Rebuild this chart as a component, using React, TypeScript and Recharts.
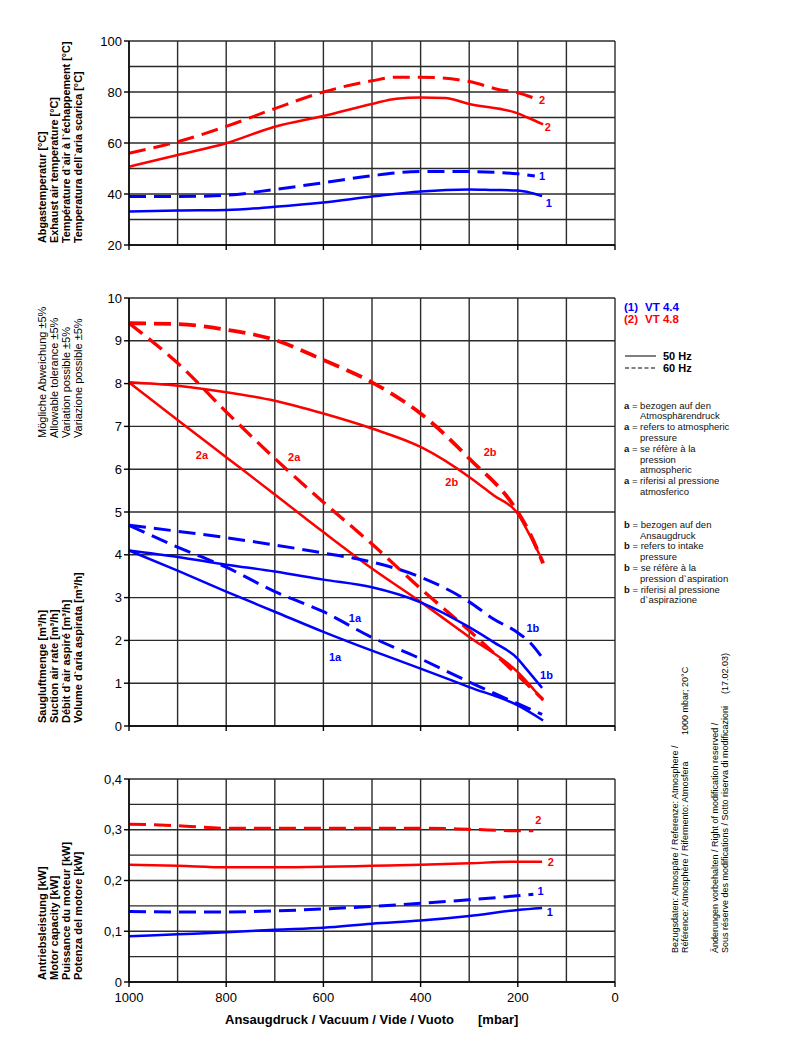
import React from 'react';
import { LineChart, Line, XAxis, YAxis, CartesianGrid, ReferenceDot } from 'recharts';

const RED = '#ff0000';
const BLUE = '#0000ff';
const GRID = '#2b2b2b';
const FONT = '"Liberation Sans", Arial, Helvetica, sans-serif';

// x axis: vacuum [mbar], drawn reversed (1000 left, 0 right)
const X_TICKS = [1000, 800, 600, 400, 200, 0];
const X_GRID = [1000, 900, 800, 700, 600, 500, 400, 300, 200, 100, 0];

// exhaust air temperature [°C]
const T_TICKS = [20, 40, 60, 80, 100];
const T_GRID = [20, 30, 40, 50, 60, 70, 80, 90, 100];
const T2_60_P = [1000, 900, 800, 700, 600, 500, 450, 400, 300, 240, 200, 165];
const T2_60_V = [56, 60.5, 66.5, 73.5, 80, 84.4, 85.8, 85.8, 84.1, 81, 79.7, 77.5];
const T2_50_P = [1000, 900, 800, 700, 600, 500, 450, 400, 350, 300, 200, 180, 148];
const T2_50_V = [50.7, 55.3, 59.9, 66.4, 70.6, 75.3, 77.4, 77.8, 77.6, 75.3, 71.6, 70, 67.3];
const T1_60_P = [1000, 900, 800, 700, 600, 500, 400, 300, 200, 165];
const T1_60_V = [39, 39, 39.5, 41.8, 44.4, 47.2, 48.8, 48.8, 47.9, 47.1];
const T1_50_P = [1000, 900, 800, 700, 600, 500, 400, 300, 250, 200, 180, 150];
const T1_50_V = [33.1, 33.5, 33.7, 35, 36.7, 39, 41, 41.8, 41.6, 41.4, 40.8, 39.2];

// suction air rate [m³/h]
const F_TICKS = [0, 1, 2, 3, 4, 5, 6, 7, 8, 9, 10];
const F2B_60_P = [1000, 900, 800, 700, 600, 500, 400, 300, 200, 175, 148];
const F2B_60_V = [9.41, 9.39, 9.26, 9.02, 8.55, 8.03, 7.3, 6.25, 5.0, 4.5, 3.8];
const F2B_50_P = [1000, 900, 800, 700, 600, 500, 400, 300, 250, 200, 175, 148];
const F2B_50_V = [8.03, 7.95, 7.8, 7.6, 7.3, 6.95, 6.52, 5.82, 5.39, 4.96, 4.45, 3.83];
const F2A_60_P = [1000, 900, 800, 700, 600, 500, 400, 300, 200, 148];
const F2A_60_V = [9.41, 8.48, 7.34, 6.25, 5.23, 4.25, 3.21, 2.23, 1.18, 0.62];
const F2A_50_P = [1000, 900, 800, 700, 600, 500, 400, 300, 200, 148];
const F2A_50_V = [8.03, 7.15, 6.28, 5.41, 4.53, 3.68, 2.9, 2.08, 1.26, 0.6];
const F1B_60_P = [1000, 900, 800, 700, 600, 500, 400, 300, 250, 200, 175, 148];
const F1B_60_V = [4.69, 4.55, 4.4, 4.23, 4.04, 3.83, 3.48, 2.9, 2.5, 2.18, 1.95, 1.57];
const F1B_50_P = [1000, 900, 800, 700, 600, 500, 400, 300, 250, 200, 183, 150];
const F1B_50_V = [4.1, 3.95, 3.77, 3.61, 3.42, 3.24, 2.89, 2.31, 1.96, 1.57, 1.34, 0.89];
const F1A_60_P = [1000, 900, 800, 700, 600, 500, 400, 300, 200, 150];
const F1A_60_V = [4.69, 4.18, 3.71, 3.14, 2.67, 2.07, 1.57, 1.03, 0.52, 0.27];
const F1A_50_P = [1000, 900, 800, 700, 600, 500, 400, 300, 200, 148];
const F1A_50_V = [4.1, 3.63, 3.14, 2.67, 2.2, 1.76, 1.34, 0.91, 0.48, 0.13];

// motor capacity [kW]
const W_TICKS = [0, 0.1, 0.2, 0.3, 0.4];
const W_GRID = [0, 0.05, 0.1, 0.15, 0.2, 0.25, 0.3, 0.35, 0.4];
const W2_60_P = [1000, 900, 800, 700, 600, 500, 400, 300, 200, 168];
const W2_60_V = [0.311, 0.308, 0.303, 0.303, 0.303, 0.303, 0.303, 0.301, 0.298, 0.298];
const W2_50_P = [1000, 900, 800, 700, 600, 500, 400, 300, 200, 150];
const W2_50_V = [0.231, 0.229, 0.226, 0.226, 0.227, 0.229, 0.231, 0.234, 0.237, 0.237];
const W1_60_P = [1000, 900, 800, 700, 600, 500, 400, 300, 200, 168];
const W1_60_V = [0.139, 0.138, 0.138, 0.14, 0.144, 0.149, 0.155, 0.162, 0.17, 0.173];
const W1_50_P = [1000, 900, 800, 700, 600, 500, 400, 300, 200, 150];
const W1_50_V = [0.09, 0.094, 0.098, 0.103, 0.107, 0.115, 0.121, 0.13, 0.142, 0.146];

type Pt = { p: number; v: number };
type Series = { name: string; data: Pt[]; color: string; dashed: boolean; width?: number };
type CurveLabel = { text: string; p: number; v: number; color: string };

const pts = (p: number[], v: number[]): Pt[] => p.map((x, i) => ({ p: x, v: v[i] }));

const TEMP_SERIES: Series[] = [
  { name: '2-60', data: pts(T2_60_P, T2_60_V), color: RED, dashed: true },
  { name: '2-50', data: pts(T2_50_P, T2_50_V), color: RED, dashed: false },
  { name: '1-60', data: pts(T1_60_P, T1_60_V), color: BLUE, dashed: true },
  { name: '1-50', data: pts(T1_50_P, T1_50_V), color: BLUE, dashed: false },
];
const TEMP_LABELS: CurveLabel[] = [
  { text: '2', p: 150, v: 76.9, color: RED },
  { text: '2', p: 138, v: 66.3, color: RED },
  { text: '1', p: 150, v: 47, color: BLUE },
  { text: '1', p: 136, v: 36.5, color: BLUE },
];

const FLOW_SERIES: Series[] = [
  { name: '2b-60', data: pts(F2B_60_P, F2B_60_V), color: RED, dashed: true, width: 3.8 },
  { name: '2b-50', data: pts(F2B_50_P, F2B_50_V), color: RED, dashed: false },
  { name: '2a-60', data: pts(F2A_60_P, F2A_60_V), color: RED, dashed: true, width: 3.3 },
  { name: '2a-50', data: pts(F2A_50_P, F2A_50_V), color: RED, dashed: false },
  { name: '1b-60', data: pts(F1B_60_P, F1B_60_V), color: BLUE, dashed: true },
  { name: '1b-50', data: pts(F1B_50_P, F1B_50_V), color: BLUE, dashed: false },
  { name: '1a-60', data: pts(F1A_60_P, F1A_60_V), color: BLUE, dashed: true },
  { name: '1a-50', data: pts(F1A_50_P, F1A_50_V), color: BLUE, dashed: false },
];
const FLOW_LABELS: CurveLabel[] = [
  { text: '2a', p: 850, v: 6.33, color: RED },
  { text: '2a', p: 660, v: 6.28, color: RED },
  { text: '2b', p: 257, v: 6.4, color: RED },
  { text: '2b', p: 336, v: 5.7, color: RED },
  { text: '1a', p: 535, v: 2.52, color: BLUE },
  { text: '1a', p: 576, v: 1.6, color: BLUE },
  { text: '1b', p: 169, v: 2.28, color: BLUE },
  { text: '1b', p: 141, v: 1.19, color: BLUE },
];

const POWER_SERIES: Series[] = [
  { name: '2-60', data: pts(W2_60_P, W2_60_V), color: RED, dashed: true },
  { name: '2-50', data: pts(W2_50_P, W2_50_V), color: RED, dashed: false },
  { name: '1-60', data: pts(W1_60_P, W1_60_V), color: BLUE, dashed: true },
  { name: '1-50', data: pts(W1_50_P, W1_50_V), color: BLUE, dashed: false },
];
const POWER_LABELS: CurveLabel[] = [
  { text: '2', p: 158, v: 0.319, color: RED },
  { text: '2', p: 132, v: 0.236, color: RED },
  { text: '1', p: 153, v: 0.179, color: BLUE },
  { text: '1', p: 134, v: 0.137, color: BLUE },
];

const tickStyle = { fill: '#000', fontSize: 13, fontFamily: FONT };

interface PanelProps {
  top: number;
  height: number;
  margin: { top: number; right: number; bottom: number; left: number };
  yDomain: [number, number];
  yTicks: number[];
  yGrid: number[];
  series: Series[];
  labels: CurveLabel[];
  xAxisHeight: number;
  showXLabels: boolean;
  yFormat?: (v: number) => string;
}

const Panel: React.FC<PanelProps> = ({
  top, height, margin, yDomain, yTicks, yGrid, series, labels, xAxisHeight, showXLabels, yFormat,
}) => (
  <div style={{ position: 'absolute', left: 0, top }}>
    <LineChart width={800} height={height} margin={margin}>
      <CartesianGrid
        stroke={GRID}
        strokeWidth={1.4}
        horizontalValues={yGrid}
        verticalValues={X_GRID}
      />
      <XAxis
        dataKey="p"
        type="number"
        domain={[0, 1000]}
        reversed
        ticks={X_TICKS}
        allowDuplicatedCategory={false}
        height={xAxisHeight}
        tickSize={5}
        tickMargin={6}
        stroke="#000"
        strokeWidth={1.4}
        tick={tickStyle}
        tickFormatter={(v: number) => (showXLabels ? String(v) : '')}
      />
      <YAxis
        type="number"
        domain={yDomain}
        ticks={yTicks}
        width={40}
        tickSize={5}
        stroke="#000"
        strokeWidth={1.4}
        tick={tickStyle}
        tickFormatter={yFormat}
        allowDataOverflow
      />
      {series.map((s) => (
        <Line
          key={s.name}
          data={s.data}
          dataKey="v"
          type="monotone"
          stroke={s.color}
          strokeWidth={s.width ?? (s.dashed ? 3 : 2.5)}
          strokeDasharray={s.dashed ? '17 8' : undefined}
          dot={false}
          activeDot={false}
          isAnimationActive={false}
        />
      ))}
      {labels.map((l, i) => (
        <ReferenceDot
          key={`lbl-${i}`}
          x={l.p}
          y={l.v}
          r={0}
          fill="none"
          stroke="none"
          label={{
            value: l.text,
            position: 'center',
            fill: l.color,
            fontSize: 11,
            fontWeight: 'bold',
            fontFamily: FONT,
          }}
        />
      ))}
    </LineChart>
  </div>
);

const vText = (x: number, y: number, text: string, bold: boolean, size = 11, key?: string) => (
  <text
    key={key}
    x={x}
    y={y}
    transform={`rotate(-90, ${x}, ${y})`}
    fontSize={size}
    fontWeight={bold ? 'bold' : 'normal'}
    fontFamily={FONT}
    fill="#000"
  >
    {text}
  </text>
);

const TEMP_TITLE = [
  'Abgastemperatur [°C]',
  'Exhaust air temperature [°C]',
  'Température d`air à l`échappement [°C]',
  'Temperatura dell`aria scarica [°C]',
];
const TOL_TITLE = [
  'Mögliche Abweichung ±5%',
  'Allowable tolerance ±5%',
  'Variation possible ±5%',
  'Variazione possible ±5%',
];
const FLOW_TITLE = [
  'Saugluftmenge [m³/h]',
  'Suction air rate [m³/h]',
  'Débit d`air aspiré [m³/h]',
  'Volume d`aria aspirata [m³/h]',
];
const POWER_TITLE = [
  'Antriebsleistung [kW]',
  'Motor capacity [kW]',
  'Puissance du moteur [kW]',
  'Potenza del motore [kW]',
];
const NOTE_A: [string, string][] = [
  ['a', ' = bezogen auf den'],
  ['', 'Atmosphärendruck'],
  ['a', ' = refers to atmospheric'],
  ['', 'pressure'],
  ['a', ' = se réfère à la'],
  ['', 'pression'],
  ['', 'atmospheric'],
  ['a', ' = riferisi al pressione'],
  ['', 'atmosferico'],
];
const NOTE_B: [string, string][] = [
  ['b', ' = bezogen auf den'],
  ['', 'Ansaugdruck'],
  ['b', ' = refers to intake'],
  ['', 'pressure'],
  ['b', ' = se réfère à la'],
  ['', 'pression d`aspiration'],
  ['b', ' = riferisi al pressione'],
  ['', 'd`aspirazione'],
];

const noteBlock = (lines: [string, string][], y0: number, keyBase: string) =>
  lines.map(([k, t], i) => (
    <text
      key={`${keyBase}-${i}`}
      x={k ? 624 : 640}
      y={y0 + i * 10.8}
      fontSize={9.5}
      fontFamily={FONT}
      fill="#111"
    >
      {k && <tspan fontWeight="bold">{k}</tspan>}
      {t}
    </text>
  ));

const Overlay: React.FC = () => (
  <svg
    width={800}
    height={1042}
    style={{ position: 'absolute', left: 0, top: 0, pointerEvents: 'none' }}
  >
    {TEMP_TITLE.map((t, i) => vText(46 + i * 12, 243, t, true, 10.8, `tt${i}`))}
    {TOL_TITLE.map((t, i) => vText(46 + i * 12, 438, t, false, 11, `tl${i}`))}
    {FLOW_TITLE.map((t, i) => vText(46 + i * 12, 723, t, true, 11, `fl${i}`))}
    {POWER_TITLE.map((t, i) => vText(46 + i * 12, 980, t, true, 11, `pw${i}`))}

    <text x={225} y={1024} fontSize={13} fontWeight="bold" fontFamily={FONT}>
      Ansaugdruck / Vacuum / Vide / Vuoto
    </text>
    <text x={478} y={1024} fontSize={13} fontWeight="bold" fontFamily={FONT}>
      [mbar]
    </text>

    <text x={624} y={311} fontSize={11.5} fontWeight="bold" fontFamily={FONT} fill={BLUE}>
      <tspan>(1)</tspan>
      <tspan dx={7}>VT 4.4</tspan>
    </text>
    <text x={624} y={323} fontSize={11.5} fontWeight="bold" fontFamily={FONT} fill={RED}>
      <tspan>(2)</tspan>
      <tspan dx={7}>VT 4.8</tspan>
    </text>
    <line x1={625} y1={356} x2={656} y2={356} stroke="#000" strokeWidth={1} />
    <line x1={625} y1={368} x2={656} y2={368} stroke="#000" strokeWidth={1} strokeDasharray="4 2.5" />
    <text x={663} y={360} fontSize={11} fontWeight="bold" fontFamily={FONT}>50 Hz</text>
    <text x={663} y={372} fontSize={11} fontWeight="bold" fontFamily={FONT}>60 Hz</text>

    {noteBlock(NOTE_A, 408.5, 'na')}
    {noteBlock(NOTE_B, 527.8, 'nb')}

    {vText(678, 953, 'Bezugsdaten: Atmospäre / Referenze: Atmosphere /', false, 9, 'r1')}
    {vText(688, 953, 'Référence: Atmosphère / Rifermento: Atmosfera', false, 9, 'r2')}
    {vText(688, 735, '1000 mbar; 20°C', false, 9, 'r2b')}
    {vText(718, 953, 'Änderungen vorbehalten / Right of modification reserved /', false, 9, 'r3')}
    {vText(728, 953, 'Sous réserve des modifications / Sotto riserva di modificazioni', false, 9, 'r4')}
    {vText(728, 694, '(17.02.03)', false, 9, 'r4b')}
  </svg>
);

const App: React.FC = () => (
  <div
    style={{
      position: 'absolute',
      left: 0,
      top: 0,
      width: 800,
      height: 1042,
      background: '#fff',
      fontFamily: FONT,
    }}
  >
    <Panel
      top={0}
      height={270}
      margin={{ top: 41, right: 185, bottom: 15, left: 89 }}
      yDomain={[20, 100]}
      yTicks={T_TICKS}
      yGrid={T_GRID}
      series={TEMP_SERIES}
      labels={TEMP_LABELS}
      xAxisHeight={10}
      showXLabels={false}
    />
    <Panel
      top={270}
      height={480}
      margin={{ top: 28, right: 185, bottom: 14, left: 89 }}
      yDomain={[0, 10]}
      yTicks={F_TICKS}
      yGrid={F_TICKS}
      series={FLOW_SERIES}
      labels={FLOW_LABELS}
      xAxisHeight={10}
      showXLabels={false}
    />
    <Panel
      top={750}
      height={292}
      margin={{ top: 29, right: 185, bottom: 30, left: 89 }}
      yDomain={[0, 0.4]}
      yTicks={W_TICKS}
      yGrid={W_GRID}
      series={POWER_SERIES}
      labels={POWER_LABELS}
      xAxisHeight={30}
      showXLabels
      yFormat={(v: number) => (v === 0 ? '0' : v.toFixed(1).replace('.', ','))}
    />
    <Overlay />
  </div>
);

export default App;
